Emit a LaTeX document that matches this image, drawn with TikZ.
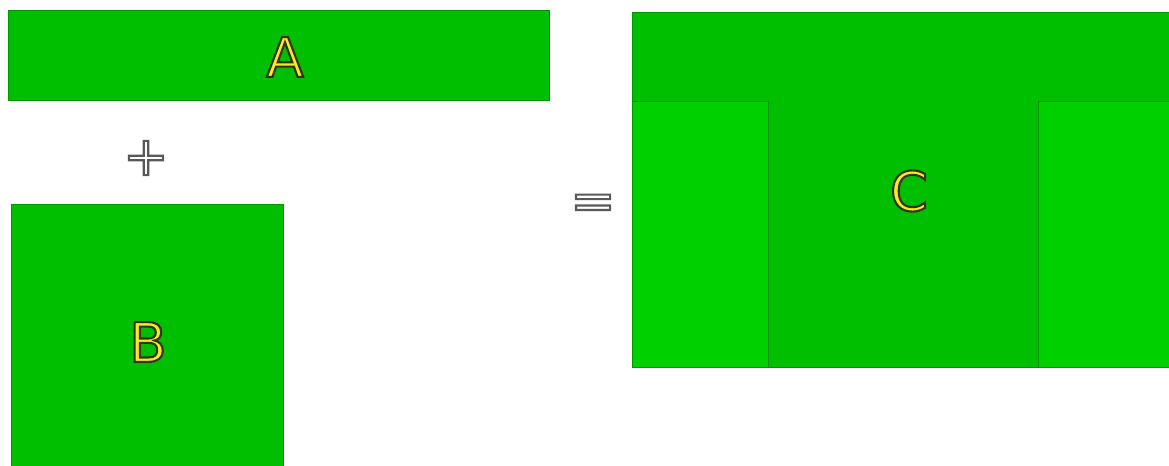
\documentclass[tikz,border=0pt]{standalone}
\usepackage{fontspec}
\setmainfont{DejaVu Sans}
\usepackage{xcolor}

\definecolor{boxgreen}{RGB}{0,191,0}
\definecolor{panelgreen}{RGB}{0,207,0}
\definecolor{edgegreen}{RGB}{0,150,0}
\definecolor{lettery}{RGB}{245,235,40}

% outlined glyphs: fill with the current colour, stroke in dark grey
\newcommand{\outlined}[2]{%
  \special{pdf:literal direct 2 Tr 1.2 w #1 RG}#2\special{pdf:literal direct 0 Tr}}

\begin{document}
\begin{tikzpicture}[
  x=0.02cm, y=-0.02cm,
  slab/.style={
    draw=edgegreen, fill=boxgreen, line width=0.8pt,
    rectangle, inner sep=0pt, anchor=north west
  },
  panel/.style={
    draw=edgegreen, fill=panelgreen, line width=0.5pt,
    rectangle, inner sep=0pt, anchor=north west
  },
  letter/.style={
    font=\fontsize{31}{31}\selectfont, text=lettery, inner sep=0pt
  },
  sign/.style={
    font=\fontsize{31}{31}\selectfont, text=white, inner sep=0pt
  },
]
\useasboundingbox (0,0) rectangle (1169,466);
\node[slab, minimum width=10.82cm, minimum height=1.8cm] (boxA) at (8,10) {};
\node[slab, minimum width=5.44cm,  minimum height=5.4cm] (boxB) at (11,204) {};
\node[slab, minimum width=11cm,    minimum height=7.1cm] (boxC) at (632,12) {};
\node[panel, minimum width=2.72cm, minimum height=5.32cm] (left)  at (632,101) {};
\node[panel, minimum width=2.8cm,  minimum height=5.32cm] (right) at (1038,101) {};
\node[letter] (labA) at (285,57)  {\outlined{0.2 0.2 0.1}{A}};
\node[letter] (labB) at (148,342) {\outlined{0.2 0.2 0.1}{B}};
\node[letter] (labC) at (909,191) {\outlined{0.2 0.2 0.1}{C}};
\node[sign]   (plus)   at (146,158) {\outlined{0.35 0.35 0.35}{+}};
\node[sign]   (equals) at (593,207) {\outlined{0.35 0.35 0.35}{=}};
\end{tikzpicture}
\end{document}
